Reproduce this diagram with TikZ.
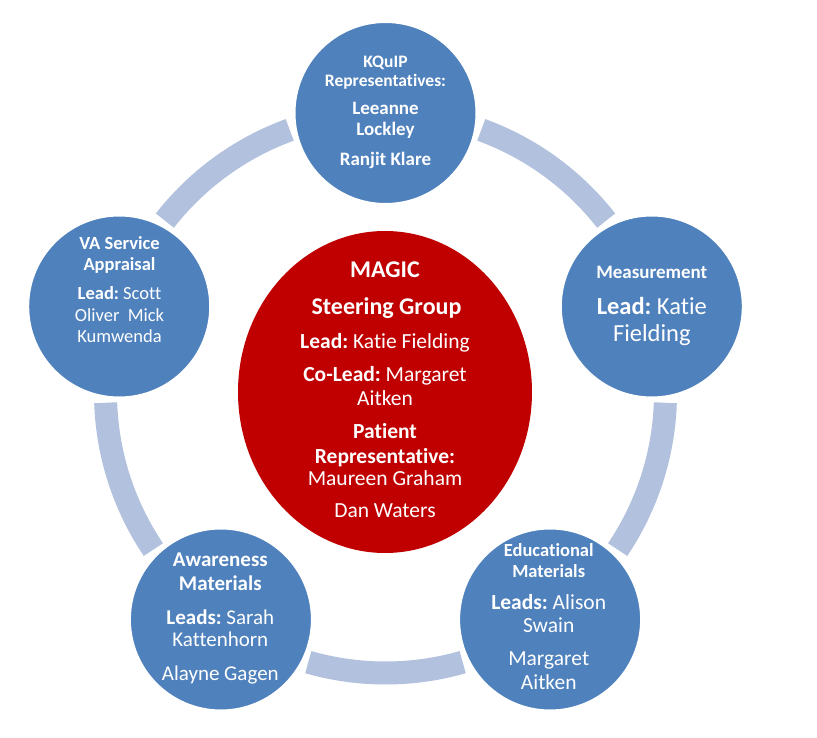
\documentclass[tikz,border=0pt]{standalone}
\usepackage{fontspec}
\setmainfont{Carlito}[Ligatures=NoCommon]
\usetikzlibrary{shapes.geometric}
\definecolor{blobblue}{RGB}{79,129,189}
\definecolor{magicred}{RGB}{192,0,0}
\definecolor{ringblue}{RGB}{178,193,222}
\newcommand{\fsz}[1]{\fontsize{#1}{#1}\selectfont}
\frenchspacing
\begin{document}
\begin{tikzpicture}[x=1pt,y=1pt,
  blob/.style={circle,fill=blobblue,draw=white,line width=2pt,minimum size=182pt,inner sep=0pt},
  ringarc/.style={draw=ringblue,line width=23pt},
  ln/.style={text=white,inner sep=0pt,anchor=base},
]
\fill[white] (0,0) rectangle (817,737);
\useasboundingbox (0,0) rectangle (817,737);
\coordinate (o) at (385.5,344);
% ring arcs
\draw[ringarc] (o) ++(110:280pt) arc[start angle=110,end angle=142,radius=280pt];
\draw[ringarc] (o) ++(182:280pt) arc[start angle=182,end angle=214,radius=280pt];
\draw[ringarc] (o) ++(254:280pt) arc[start angle=254,end angle=286,radius=280pt];
\draw[ringarc] (o) ++(326:280pt) arc[start angle=326,end angle=358,radius=280pt];
\draw[ringarc] (o) ++(38:280pt) arc[start angle=38,end angle=70,radius=280pt];
% circles
\node[blob] (top) at (385.5,624) {};
\node[blob] (right) at (651.8,430.5) {};
\node[blob] (bright) at (550.1,117.5) {};
\node[blob] (bleft) at (220.9,117.5) {};
\node[blob] (left) at (119.2,430.5) {};
\node[ellipse,fill=magicred,minimum width=294pt,minimum height=322pt,inner sep=0pt] (magic) at (385,345) {};
% top text
\node[ln,font=\fsz{17.5}\bfseries] (t1) at (385.5,669) {KQuIP};
\node[ln,font=\fsz{17.5}\bfseries] (t2) at (385.5,650) {Representatives:};
\node[ln,font=\fsz{19}\bfseries] (t3) at (385.5,622) {Leeanne};
\node[ln,font=\fsz{19}\bfseries] (t4) at (385.5,601) {Lockley};
\node[ln,font=\fsz{19}\bfseries] (t5) at (385.5,571) {Ranjit Klare};
% left text
\node[ln,font=\fsz{18.5}\bfseries] (l1) at (119.5,487) {VA Service};
\node[ln,font=\fsz{18.5}\bfseries] (l2) at (119.5,466.3) {Appraisal};
\node[ln,font=\fsz{18.5}] (l3) at (119.5,437) {\textbf{Lead:} Scott};
\node[ln,font=\fsz{18.5}] (l4) at (119.5,415.3) {Oliver\ \ Mick};
\node[ln,font=\fsz{18.5}] (l5) at (119.5,394.3) {Kumwenda};
% right text
\node[ln,font=\fsz{19}\bfseries] (r1) at (651.8,458) {Measurement};
\node[ln,font=\fsz{24.5}] (r2) at (651.8,422) {\textbf{Lead:} Katie};
\node[ln,font=\fsz{24.5}] (r3) at (651.8,395) {Fielding};
% bottom right text
\node[ln,font=\fsz{18.5}\bfseries] (e1) at (548.7,180) {Educational};
\node[ln,font=\fsz{18.5}\bfseries] (e2) at (548.7,160) {Materials};
\node[ln,font=\fsz{21.5}] (e3) at (548.7,128) {\textbf{Leads:} Alison};
\node[ln,font=\fsz{21.5}] (e4) at (548.7,105) {Swain};
\node[ln,font=\fsz{21.5}] (e5) at (548.7,71.3) {Margaret};
\node[ln,font=\fsz{21.5}] (e6) at (548.7,48) {Aitken};
% bottom left text
\node[ln,font=\fsz{21}\bfseries] (a1) at (220.3,170.3) {Awareness};
\node[ln,font=\fsz{21}\bfseries] (a2) at (220.3,146.3) {Materials};
\node[ln,font=\fsz{21}] (a3) at (220.3,113) {\textbf{Leads:} Sarah};
\node[ln,font=\fsz{21}] (a4) at (220.3,90.3) {Kattenhorn};
\node[ln,font=\fsz{21}] (a5) at (220.3,57) {Alayne Gagen};
% centre text
\node[ln,font=\fsz{24}\bfseries] (m1) at (385,459.3) {MAGIC};
\node[ln,font=\fsz{24}\bfseries] (m2) at (386.5,422) {Steering Group};
\node[ln,font=\fsz{21.5}] (m3) at (385,388) {\textbf{Lead:} Katie Fielding};
\node[ln,font=\fsz{21.5}] (m4) at (385,355.3) {\textbf{Co-Lead:} Margaret};
\node[ln,font=\fsz{21.5}] (m5) at (385,331.3) {Aitken};
\node[ln,font=\fsz{21.5}\bfseries] (m6) at (385,298) {Patient};
\node[ln,font=\fsz{21.5}\bfseries] (m7) at (385,273.7) {Representative:};
\node[ln,font=\fsz{21.5}] (m8) at (385,251.3) {Maureen Graham};
\node[ln,font=\fsz{21.5}] (m9) at (385,219.3) {Dan Waters};
\end{tikzpicture}
\end{document}
